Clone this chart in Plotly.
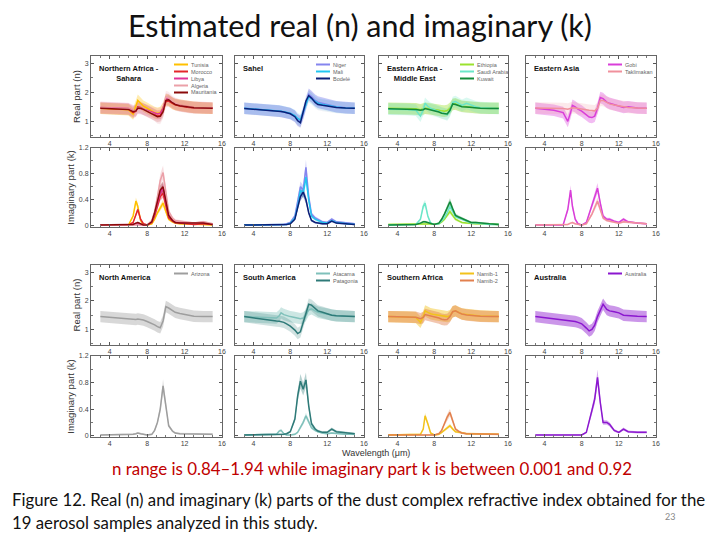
import plotly.graph_objects as go

W, H = 720, 540

# ---------------- data ----------------
wl = [3, 4, 5, 6, 6.5, 6.8, 7, 7.3, 7.6, 8, 8.5, 8.8, 9.1, 9.4, 9.7, 10, 10.3, 10.7, 11, 11.5, 12, 12.5, 13, 14, 15]

# Northern Africa - Sahara
tunisia_n = [1.45, 1.44, 1.43, 1.40, 1.25, 1.50, 1.72, 1.62, 1.52, 1.45, 1.35, 1.30, 1.28, 1.30, 1.45, 1.75, 1.72, 1.62, 1.58, 1.55, 1.52, 1.50, 1.48, 1.46, 1.45]
morocco_n = [1.46, 1.45, 1.44, 1.42, 1.30, 1.35, 1.50, 1.48, 1.42, 1.36, 1.28, 1.22, 1.18, 1.20, 1.35, 1.68, 1.70, 1.62, 1.57, 1.53, 1.50, 1.48, 1.47, 1.46, 1.45]
libya_n = [1.48, 1.47, 1.46, 1.44, 1.36, 1.38, 1.45, 1.44, 1.42, 1.38, 1.32, 1.28, 1.25, 1.28, 1.45, 1.78, 1.75, 1.65, 1.60, 1.55, 1.52, 1.50, 1.48, 1.47, 1.46]
algeria_n = [1.47, 1.46, 1.45, 1.43, 1.35, 1.38, 1.47, 1.46, 1.42, 1.36, 1.28, 1.20, 1.12, 1.10, 1.30, 1.85, 1.82, 1.68, 1.62, 1.56, 1.52, 1.50, 1.48, 1.47, 1.46]
mauritania_n = [1.45, 1.44, 1.43, 1.41, 1.33, 1.36, 1.46, 1.45, 1.41, 1.35, 1.27, 1.21, 1.16, 1.17, 1.33, 1.72, 1.74, 1.64, 1.58, 1.54, 1.51, 1.49, 1.47, 1.46, 1.45]
tunisia_k = [0.01, 0.01, 0.01, 0.01, 0.15, 0.38, 0.30, 0.08, 0.02, 0.01, 0.03, 0.10, 0.20, 0.28, 0.35, 0.22, 0.10, 0.06, 0.04, 0.03, 0.03, 0.02, 0.02, 0.02, 0.01]
morocco_k = [0.01, 0.01, 0.01, 0.01, 0.05, 0.18, 0.25, 0.10, 0.03, 0.01, 0.05, 0.15, 0.30, 0.45, 0.50, 0.30, 0.12, 0.07, 0.05, 0.04, 0.03, 0.03, 0.02, 0.03, 0.02]
libya_k = [0.01, 0.01, 0.01, 0.01, 0.02, 0.03, 0.03, 0.02, 0.01, 0.01, 0.06, 0.18, 0.35, 0.50, 0.58, 0.35, 0.15, 0.08, 0.05, 0.05, 0.04, 0.04, 0.04, 0.05, 0.02]
algeria_k = [0.01, 0.01, 0.01, 0.01, 0.01, 0.02, 0.02, 0.02, 0.01, 0.01, 0.08, 0.22, 0.45, 0.70, 0.82, 0.50, 0.22, 0.12, 0.08, 0.07, 0.06, 0.05, 0.04, 0.06, 0.03]
mauritania_k = [0.01, 0.01, 0.01, 0.01, 0.02, 0.04, 0.05, 0.03, 0.01, 0.01, 0.06, 0.20, 0.40, 0.55, 0.60, 0.38, 0.16, 0.08, 0.05, 0.04, 0.04, 0.03, 0.03, 0.04, 0.02]

# Sahel
niger_n = [1.45, 1.43, 1.41, 1.38, 1.36, 1.35, 1.34, 1.32, 1.30, 1.27, 1.18, 1.05, 1.00, 1.25, 1.60, 1.93, 1.85, 1.72, 1.66, 1.62, 1.58, 1.54, 1.50, 1.47, 1.45]
mali_n = [1.45, 1.43, 1.41, 1.38, 1.37, 1.36, 1.35, 1.33, 1.31, 1.28, 1.20, 1.10, 1.05, 1.30, 1.62, 1.85, 1.78, 1.68, 1.62, 1.58, 1.55, 1.52, 1.49, 1.46, 1.45]
bodele_n = [1.44, 1.42, 1.40, 1.37, 1.36, 1.35, 1.34, 1.32, 1.30, 1.26, 1.16, 1.02, 0.95, 1.35, 1.70, 1.88, 1.80, 1.65, 1.58, 1.55, 1.52, 1.50, 1.48, 1.46, 1.45]
niger_k = [0.01, 0.01, 0.01, 0.01, 0.01, 0.02, 0.02, 0.02, 0.03, 0.05, 0.15, 0.35, 0.60, 0.55, 0.90, 0.45, 0.18, 0.12, 0.10, 0.06, 0.05, 0.10, 0.06, 0.04, 0.03]
mali_k = [0.01, 0.01, 0.01, 0.01, 0.01, 0.01, 0.02, 0.02, 0.02, 0.04, 0.12, 0.30, 0.55, 0.50, 0.75, 0.40, 0.15, 0.10, 0.08, 0.05, 0.04, 0.08, 0.05, 0.03, 0.02]
bodele_k = [0.01, 0.01, 0.01, 0.01, 0.01, 0.01, 0.02, 0.02, 0.02, 0.03, 0.10, 0.28, 0.45, 0.52, 0.40, 0.20, 0.08, 0.05, 0.04, 0.03, 0.03, 0.07, 0.04, 0.03, 0.02]

# Eastern Africa - Middle East
ethiopia_n = [1.45, 1.45, 1.44, 1.43, 1.40, 1.42, 1.45, 1.44, 1.43, 1.41, 1.38, 1.36, 1.35, 1.37, 1.45, 1.58, 1.60, 1.55, 1.52, 1.50, 1.48, 1.47, 1.46, 1.45, 1.45]
saudi_n = [1.42, 1.42, 1.41, 1.38, 1.18, 1.40, 1.62, 1.52, 1.45, 1.40, 1.33, 1.28, 1.24, 1.22, 1.35, 1.65, 1.68, 1.60, 1.55, 1.62, 1.55, 1.50, 1.47, 1.45, 1.44]
kuwait_n = [1.43, 1.43, 1.42, 1.41, 1.38, 1.40, 1.44, 1.42, 1.40, 1.37, 1.32, 1.28, 1.26, 1.25, 1.38, 1.60, 1.58, 1.52, 1.50, 1.49, 1.47, 1.46, 1.45, 1.44, 1.44]
ethiopia_k = [0.02, 0.02, 0.02, 0.02, 0.02, 0.02, 0.02, 0.02, 0.02, 0.02, 0.03, 0.06, 0.10, 0.16, 0.22, 0.16, 0.10, 0.07, 0.05, 0.04, 0.03, 0.03, 0.03, 0.02, 0.02]
saudi_k = [0.01, 0.01, 0.01, 0.02, 0.10, 0.30, 0.35, 0.15, 0.04, 0.02, 0.03, 0.07, 0.12, 0.20, 0.30, 0.22, 0.14, 0.12, 0.10, 0.07, 0.04, 0.04, 0.03, 0.02, 0.02]
kuwait_k = [0.01, 0.01, 0.01, 0.02, 0.04, 0.06, 0.06, 0.05, 0.03, 0.02, 0.04, 0.10, 0.18, 0.28, 0.37, 0.26, 0.16, 0.13, 0.11, 0.08, 0.05, 0.05, 0.04, 0.03, 0.02]

# Eastern Asia
gobi_n = [1.45, 1.42, 1.38, 1.30, 1.00, 1.30, 1.55, 1.50, 1.42, 1.35, 1.22, 1.15, 1.13, 1.18, 1.45, 1.82, 1.78, 1.66, 1.62, 1.58, 1.54, 1.48, 1.50, 1.46, 1.45]
taklimakan_n = [1.46, 1.46, 1.45, 1.44, 1.42, 1.44, 1.47, 1.46, 1.45, 1.43, 1.40, 1.38, 1.36, 1.36, 1.45, 1.72, 1.72, 1.64, 1.60, 1.56, 1.53, 1.50, 1.48, 1.46, 1.45]
gobi_k = [0.01, 0.01, 0.01, 0.01, 0.25, 0.55, 0.30, 0.10, 0.03, 0.01, 0.05, 0.18, 0.30, 0.42, 0.58, 0.35, 0.15, 0.10, 0.10, 0.07, 0.05, 0.10, 0.06, 0.04, 0.03]
taklimakan_k = [0.01, 0.01, 0.01, 0.01, 0.02, 0.04, 0.05, 0.03, 0.02, 0.01, 0.03, 0.10, 0.18, 0.28, 0.38, 0.25, 0.12, 0.08, 0.07, 0.05, 0.04, 0.06, 0.05, 0.04, 0.03]

# North America
arizona_n = [1.45, 1.42, 1.40, 1.37, 1.35, 1.35, 1.37, 1.36, 1.33, 1.28, 1.22, 1.16, 1.10, 1.06, 1.30, 1.80, 1.75, 1.65, 1.60, 1.56, 1.52, 1.48, 1.46, 1.45, 1.45]
arizona_k = [0.01, 0.01, 0.01, 0.02, 0.02, 0.03, 0.04, 0.03, 0.02, 0.01, 0.02, 0.08, 0.20, 0.40, 0.75, 0.45, 0.15, 0.07, 0.04, 0.03, 0.03, 0.03, 0.03, 0.03, 0.02]

# South America
atacama_n = [1.45, 1.44, 1.43, 1.42, 1.40, 1.48, 1.58, 1.52, 1.48, 1.45, 1.42, 1.40, 1.38, 1.40, 1.50, 1.68, 1.72, 1.65, 1.60, 1.57, 1.54, 1.50, 1.48, 1.46, 1.45]
patagonia_n = [1.45, 1.40, 1.36, 1.32, 1.30, 1.29, 1.28, 1.25, 1.20, 1.12, 0.98, 0.86, 0.92, 1.25, 1.60, 1.88, 1.85, 1.72, 1.65, 1.60, 1.55, 1.50, 1.48, 1.46, 1.45]
atacama_k = [0.01, 0.01, 0.01, 0.01, 0.02, 0.07, 0.08, 0.03, 0.01, 0.01, 0.02, 0.05, 0.12, 0.20, 0.30, 0.22, 0.12, 0.08, 0.06, 0.04, 0.03, 0.04, 0.03, 0.02, 0.02]
patagonia_k = [0.01, 0.01, 0.01, 0.01, 0.01, 0.02, 0.02, 0.02, 0.03, 0.06, 0.25, 0.60, 0.82, 0.70, 0.84, 0.45, 0.18, 0.10, 0.07, 0.05, 0.05, 0.10, 0.06, 0.04, 0.03]

# Southern Africa
namib1_n = [1.45, 1.45, 1.44, 1.42, 1.25, 1.45, 1.65, 1.60, 1.55, 1.52, 1.50, 1.48, 1.46, 1.45, 1.48, 1.62, 1.65, 1.58, 1.54, 1.52, 1.50, 1.48, 1.47, 1.46, 1.45]
namib2_n = [1.45, 1.45, 1.44, 1.43, 1.38, 1.42, 1.52, 1.50, 1.48, 1.45, 1.40, 1.36, 1.34, 1.35, 1.45, 1.62, 1.65, 1.58, 1.54, 1.51, 1.49, 1.47, 1.46, 1.45, 1.45]
namib1_k = [0.01, 0.01, 0.01, 0.01, 0.02, 0.10, 0.30, 0.18, 0.04, 0.01, 0.02, 0.05, 0.08, 0.12, 0.15, 0.10, 0.06, 0.05, 0.04, 0.03, 0.03, 0.03, 0.02, 0.02, 0.02]
namib2_k = [0.01, 0.01, 0.01, 0.01, 0.01, 0.02, 0.02, 0.02, 0.01, 0.01, 0.03, 0.08, 0.18, 0.28, 0.35, 0.22, 0.10, 0.06, 0.04, 0.03, 0.03, 0.03, 0.02, 0.02, 0.02]

# Australia
australia_n = [1.45, 1.41, 1.38, 1.35, 1.33, 1.32, 1.30, 1.28, 1.25, 1.20, 1.05, 0.95, 1.00, 1.15, 1.45, 1.70, 1.88, 1.70, 1.65, 1.62, 1.58, 1.50, 1.48, 1.46, 1.45]
australia_k = [0.01, 0.01, 0.01, 0.01, 0.01, 0.01, 0.01, 0.01, 0.01, 0.01, 0.05, 0.20, 0.38, 0.55, 0.88, 0.50, 0.20, 0.20, 0.17, 0.08, 0.05, 0.10, 0.06, 0.05, 0.05]

n_err = 0.2        # half-width of the n uncertainty band
k_err_rel = 0.12   # relative half-width of the k uncertainty band
k_err_abs = 0.01

region_names = ["Northern Africa -<br>Sahara", "Sahel", "Eastern Africa -<br>Middle East", "Eastern Asia",
                "North America", "South America", "Southern Africa", "Australia"]
# (name, n, k, colour, band opacity)
region_samples = [
    [("Tunisia", tunisia_n, tunisia_k, "#FFC000", 0.30), ("Morocco", morocco_n, morocco_k, "#E3262B", 0.15),
     ("Libya", libya_n, libya_k, "#E0339A", 0.12), ("Algeria", algeria_n, algeria_k, "#EBA0A8", 0.20),
     ("Mauritania", mauritania_n, mauritania_k, "#8B0A0A", 0.06)],
    [("Niger", niger_n, niger_k, "#8585EE", 0.45), ("Mali", mali_n, mali_k, "#22C6F0", 0.12),
     ("Bodelé", bodele_n, bodele_k, "#0B1F78", 0.06)],
    [("Ethiopia", ethiopia_n, ethiopia_k, "#9BE22E", 0.40), ("Saudi Arabia", saudi_n, saudi_k, "#6BE6C8", 0.25),
     ("Kuwait", kuwait_n, kuwait_k, "#128A3A", 0.06)],
    [("Gobi", gobi_n, gobi_k, "#D93ED9", 0.35), ("Taklimakan", taklimakan_n, taklimakan_k, "#F0909C", 0.20)],
    [("Arizona", arizona_n, arizona_k, "#9E9E9E", 0.40)],
    [("Atacama", atacama_n, atacama_k, "#7FC0BA", 0.40), ("Patagonia", patagonia_n, patagonia_k, "#2E7A78", 0.22)],
    [("Namib-1", namib1_n, namib1_k, "#F2C21B", 0.45), ("Namib-2", namib2_n, namib2_k, "#E2804E", 0.45)],
    [("Australia", australia_n, australia_k, "#8B17CF", 0.45)],
]

x_ticks = [4, 8, 12, 16]
n_ticks = [1, 2, 3]
k_ticks = [0, 0.4, 0.8, 1.2]
k_ticklabels = ["0", "0.4", "0.8", "1.2"]

# ---------------- layout geometry (pixels) ----------------
col_px = [(91, 222), (235, 364), (379, 508), (526, 656)]
row_px = [(56, 137), (148, 227), (265, 345), (356, 437)]


def rgba(hexc, a):
    h = hexc.lstrip("#")
    return "rgba(%d,%d,%d,%.2f)" % (int(h[0:2], 16), int(h[2:4], 16), int(h[4:6], 16), a)


def px(x):
    return x / W


def py(y):
    return 1 - y / H


fig = go.Figure()
layout = dict(
    width=W, height=H, margin=dict(l=0, r=0, t=0, b=0, autoexpand=False),
    paper_bgcolor="white", plot_bgcolor="white", showlegend=False, hovermode=False,
)
annotations = []
shapes = []

axis_font = dict(family="Liberation Sans, Arial", size=7, color="#444")

for i, (rname, samples) in enumerate(zip(region_names, region_samples)):
    block, col = divmod(i, 4)
    an = 2 * i + 1
    ak = 2 * i + 2
    for kind, axn in (("n", an), ("k", ak)):
        xs = "x" if axn == 1 else "x%d" % axn
        ys = "y" if axn == 1 else "y%d" % axn
        # bands
        for sname, nv, kv, c, alpha in samples:
            vals = nv if kind == "n" else kv
            if kind == "n":
                up = [v + n_err for v in vals]
                lo = [v - n_err for v in vals]
                a = alpha
            else:
                up = [v * (1 + k_err_rel) + k_err_abs for v in vals]
                lo = [max(v * (1 - k_err_rel) - k_err_abs, 0) for v in vals]
                a = 0.35
            fig.add_trace(go.Scatter(x=wl, y=up, xaxis=xs, yaxis=ys, mode="lines",
                                     line=dict(width=0, color=c), hoverinfo="skip"))
            fig.add_trace(go.Scatter(x=wl, y=lo, xaxis=xs, yaxis=ys, mode="lines",
                                     line=dict(width=0, color=c), fill="tonexty",
                                     fillcolor=rgba(c, a), hoverinfo="skip"))
        # lines
        for sname, nv, kv, c, alpha in samples:
            vals = nv if kind == "n" else kv
            fig.add_trace(go.Scatter(x=wl, y=vals, xaxis=xs, yaxis=ys, mode="lines", name=sname,
                                     line=dict(width=1.5, color=c)))

        r = 2 * block + (0 if kind == "n" else 1)
        x0, x1 = col_px[col]
        t, b = row_px[r]
        xkey = "xaxis" if axn == 1 else "xaxis%d" % axn
        ykey = "yaxis" if axn == 1 else "yaxis%d" % axn
        layout[xkey] = dict(
            domain=[px(x0), px(x1)], anchor=ys, range=[2, 16], tickvals=x_ticks, automargin=False,
            ticks="inside", ticklen=3, tickcolor="#555", showline=True, linecolor="#666",
            linewidth=1, mirror="ticks", showgrid=False, zeroline=False, tickfont=axis_font,
            minor=dict(ticks="inside", ticklen=2, dtick=1, tickcolor="#777"), fixedrange=True,
        )
        ydict = dict(
            domain=[py(b), py(t)], anchor=xs, ticks="inside", ticklen=3, tickcolor="#555",
            showline=True, linecolor="#666", linewidth=1, mirror="ticks", showgrid=False,
            zeroline=False, tickfont=axis_font, showticklabels=(col == 0), automargin=False,
            fixedrange=True,
        )
        if kind == "n":
            ydict.update(range=[0.46, 3.25], tickvals=n_ticks,
                         minor=dict(ticks="inside", ticklen=2, dtick=0.5, tickcolor="#777"))
            title = "Real part (n)"
        else:
            ydict.update(range=[-0.02, 1.2], tickvals=k_ticks, ticktext=k_ticklabels,
                         minor=dict(ticks="inside", ticklen=2, dtick=0.2, tickcolor="#777"))
            title = "Imaginary part (k)"
        if col == 0:
            ydict["title"] = dict(text=title, font=dict(family="Liberation Sans, Arial", size=9.5, color="#333"),
                                  standoff=2)
        layout[ykey] = ydict

        if kind == "n":
            # region label
            annotations.append(dict(
                text="<b>%s</b>" % rname, xref="paper", yref="paper",
                x=px(x0 + 6), y=py(t + 6), xanchor="left", yanchor="top", align="center",
                showarrow=False, font=dict(family="Liberation Sans, Arial", size=7.5, color="#111"),
            ))
            # legend (swatch + label per sample)
            for j, (sname, nv, kv, c, alpha) in enumerate(samples):
                yy = t + 8.5 + 7 * j
                shapes.append(dict(type="line", xref="paper", yref="paper",
                                   x0=px(x1 - 48), x1=px(x1 - 34), y0=py(yy), y1=py(yy),
                                   line=dict(color=c, width=2)))
                annotations.append(dict(
                    text=sname, xref="paper", yref="paper", x=px(x1 - 33), y=py(yy),
                    xanchor="left", yanchor="middle", showarrow=False,
                    font=dict(family="Liberation Sans, Arial", size=5.5, color="#666"),
                ))

# slide texts
annotations += [
    dict(text="Estimated real (n) and imaginary (k)", xref="paper", yref="paper",
         x=px(360), y=py(25), xanchor="center", yanchor="middle", showarrow=False,
         font=dict(family="Lato", size=30.5, color="#111")),
    dict(text="Wavelength (μm)", xref="paper", yref="paper",
         x=px(376), y=py(453), xanchor="center", yanchor="middle", showarrow=False,
         font=dict(family="Liberation Sans, Arial", size=9, color="#333")),
    dict(text="n range is 0.84–1.94 while imaginary part k is between 0.001 and 0.92", xref="paper", yref="paper",
         x=px(372), y=py(468), xanchor="center", yanchor="middle", showarrow=False,
         font=dict(family="Lato", size=16.9, color="#C00000")),
    dict(text="Figure 12. Real (n) and imaginary (k) parts of the dust complex refractive index obtained for the",
         xref="paper", yref="paper", x=px(10), y=py(499), xanchor="left", yanchor="middle",
         showarrow=False, font=dict(family="Lato", size=16.8, color="#111")),
    dict(text="19 aerosol samples analyzed in this study.",
         xref="paper", yref="paper", x=px(10), y=py(522), xanchor="left", yanchor="middle",
         showarrow=False, font=dict(family="Lato", size=16.8, color="#111")),
    dict(text="23", xref="paper", yref="paper", x=px(670), y=py(516), xanchor="center",
         yanchor="middle", showarrow=False, font=dict(family="Lato", size=9, color="#888")),
]
layout["annotations"] = annotations
layout["shapes"] = shapes
fig.update_layout(**layout)
fig.write_html(
    "out.html",
    config={"displayModeBar": False, "staticPlot": True},
    post_script="document.body.style.margin='0';document.body.style.padding='0';",
)
